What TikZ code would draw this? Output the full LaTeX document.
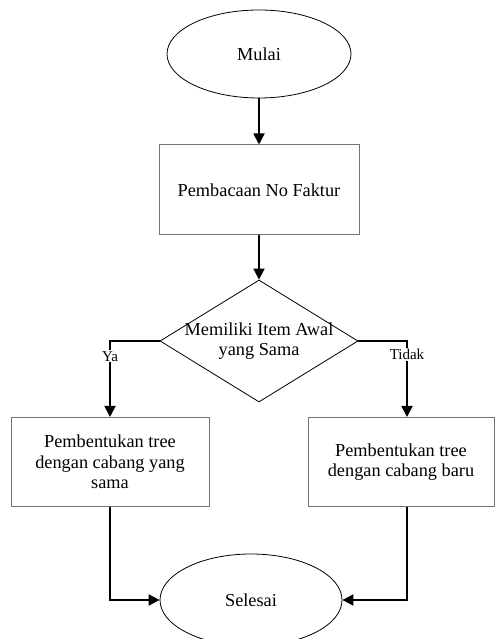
\documentclass[tikz,border=0pt]{standalone}
\usepackage{fontspec}
\setmainfont{Liberation Serif}
\usetikzlibrary{shapes.geometric,arrows.meta,calc}
\begin{document}
\begin{tikzpicture}[x=1pt,y=1pt,
  txt/.style={font=\fontsize{18.3}{20.5}\selectfont, align=center},
  term/.style={ellipse, draw=black, line width=0.8pt, inner sep=0pt, txt},
  proc/.style={rectangle, draw=black!55, line width=1pt, inner sep=0pt, txt},
  dec/.style={diamond, draw=black, line width=0.8pt, inner sep=0pt},
  conn/.style={draw=black, line width=1.8pt, -{Triangle[width=11pt,length=11pt]}},
  lab/.style={fill=white, inner sep=1pt, font=\fontsize{15}{16}\selectfont}
]
\useasboundingbox (0,0) rectangle (495,639);
\fill[white] (0,0) rectangle (495,639);
\node[term, minimum width=184pt, minimum height=88pt] (mulai) at (259,585) {Mulai};
\node[proc, minimum width=200pt, minimum height=90pt] (baca) at (259,449) {Pembacaan No Faktur};
\node[dec, minimum width=198pt, minimum height=122pt,
  label={[txt]center:Memiliki Item Awal\\yang Sama}] (dia) at (259,298) {};
\node[proc, minimum width=198pt, minimum height=89pt] (lbox) at (110,177) {Pembentukan tree\\dengan cabang yang\\sama};
\node[proc, minimum width=186pt, minimum height=89pt] (rbox) at (401,177) {Pembentukan tree\\dengan cabang baru};
\node[term, minimum width=182pt, minimum height=92pt] (sel) at (251,39) {Selesai};
\coordinate (rtop) at ([xshift=6pt]rbox.north);
\coordinate (rbot) at ([xshift=6pt]rbox.south);
\draw[conn] (mulai.south) -- (baca.north);
\draw[conn] (baca.south) -- (dia.north);
\draw[conn] (dia.west) -| node[lab, pos=0.6] {Ya} (lbox.north);
\draw[conn] (dia.east) -| node[lab, pos=0.59] {Tidak} (rtop);
\draw[conn] (lbox.south) |- (sel.west);
\draw[conn] (rbot) |- (sel.east);
\end{tikzpicture}
\end{document}
